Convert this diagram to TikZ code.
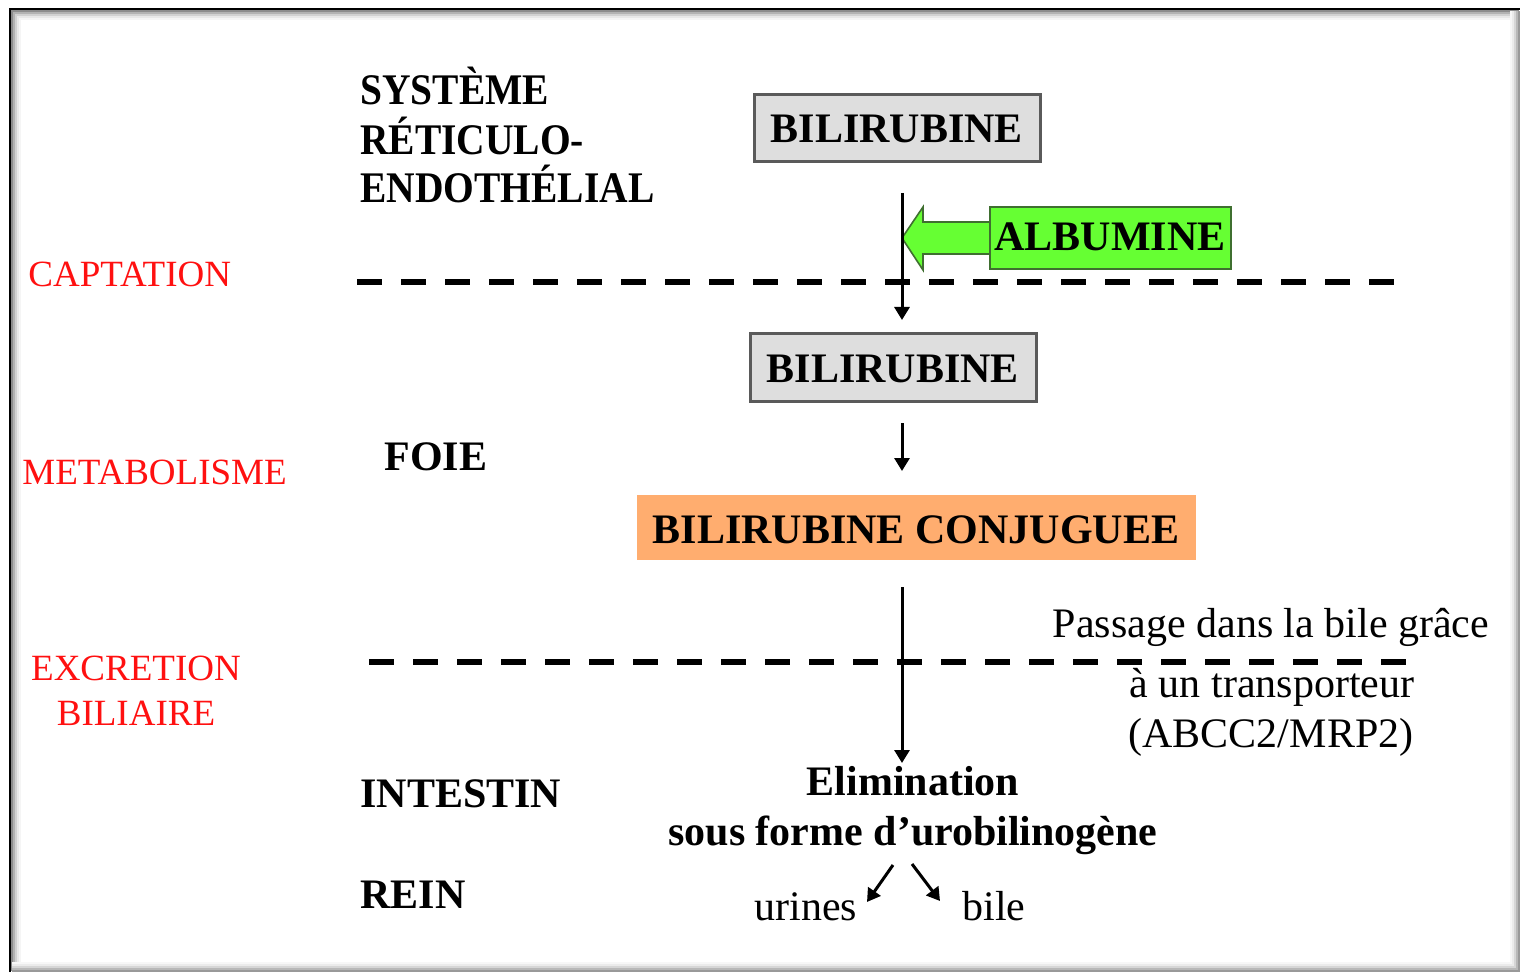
\documentclass[tikz,border=0pt]{standalone}
\usepackage{fontspec}
\setmainfont{Liberation Serif}
\usetikzlibrary{arrows.meta}
\definecolor{boxgray}{HTML}{DEDEDE}
\definecolor{boxedge}{HTML}{5A5A5A}
\definecolor{albgreen}{HTML}{66FF33}
\definecolor{albedge}{HTML}{3F6F30}
\definecolor{conjorange}{HTML}{FFAD6F}
\definecolor{redlab}{HTML}{FF1010}
\tikzset{
  big/.style={font=\fontsize{21}{25}\selectfont\bfseries, inner sep=0pt},
  plain/.style={font=\fontsize{21}{25}\selectfont, inner sep=0pt},
  redtxt/.style={font=\fontsize{18.5}{22}\selectfont, text=redlab, inner sep=0pt},
  graybox/.style={draw=boxedge, line width=1.5pt, fill=boxgray},
  sep/.style={line width=3pt, dash pattern=on 12.5pt off 9.5pt},
  flow/.style={line width=1.5pt, -{Triangle[length=6.5pt,width=7.5pt]}},
}
\begin{document}
\begin{tikzpicture}[x=0.5pt,y=-0.5pt]
\useasboundingbox (0,0) rectangle (1521,973);
\fill[white] (0,0) rectangle (1521,973);
% frame with inner shadow
\foreach \i/\g in {0/60,2/45,4/30,6/18,8/9,10/4}{
  \draw[black!\g, line width=1.2pt] (10+\i,971) -- (10+\i,9+\i) -- (1519,9+\i);
}
\foreach \i/\g in {0/40,2/28,4/16,6/8,8/3}{
  \draw[black!\g, line width=1.2pt] (12,971-\i) -- (1519-\i,971-\i) -- (1519-\i,11);
}
\draw[black, line width=1pt] (10,972) -- (10,9) -- (1520,9);

% left labels
\node[big, anchor=base west] (sre1) at (360,105) {\scalebox{0.94}[1.04]{SYSTÈME}};
\node[big, anchor=base west] (sre2) at (360,155) {\scalebox{0.94}[1.04]{RÉTICULO-}};
\node[big, anchor=base west] (sre3) at (360,203) {\scalebox{0.94}[1.04]{ENDOTHÉLIAL}};
\node[redtxt, anchor=base west] (capt) at (28,287) {CAPTATION};
\node[big, anchor=base west] (foie) at (384,470) {FOIE};
\node[redtxt, anchor=base west] (meta) at (22,484) {METABOLISME};
\node[redtxt, anchor=base] (excr1) at (136,680) {EXCRETION};
\node[redtxt, anchor=base] (excr2) at (136,725) {BILIAIRE};
\node[big, anchor=base west] (intes) at (360,807) {INTESTIN};
\node[big, anchor=base west] (rein) at (360,908) {REIN};

% separators
\coordinate (s1a) at (357,282); \coordinate (s1b) at (1404,282);
\coordinate (s2a) at (369,662); \coordinate (s2b) at (1416,662);
\draw[sep] (s1a) -- (s1b);
\draw[sep] (s2a) -- (s2b);

% boxes
\draw[graybox] (754,95) rectangle (1040,162);
\node[big, anchor=base] (bil1) at (897,143) {BILIRUBINE};
\draw[graybox] (750,334) rectangle (1036,401);
\node[big, anchor=base] (bil2) at (893,382) {BILIRUBINE};
\fill[conjorange] (637,495) rectangle (1196,560);
\node[big, anchor=base] (conj) at (916,543) {BILIRUBINE CONJUGUEE};

% green block arrow
\draw[albedge, line width=0.8pt, fill=albgreen]
  (995,222) -- (923,222) -- (923,207) -- (902,238) -- (923,270) -- (923,254) -- (995,254);
\draw[albedge, line width=1.2pt, fill=albgreen] (990,207) rectangle (1231,269);
\node[big, anchor=base] (alb) at (1110,251) {ALBUMINE};

% vertical flow arrows
\coordinate (a1s) at (902,193); \coordinate (a1e) at (902,320);
\coordinate (a2s) at (902,423); \coordinate (a2e) at (902,471);
\coordinate (a3s) at (902,587); \coordinate (a3e) at (902,763);
\draw[flow] (a1s) -- (a1e);
\draw[flow] (a2s) -- (a2e);
\draw[flow] (a3s) -- (a3e);

% right text
\node[plain, anchor=base] (pass1) at (1271,637) {Passage dans la bile grâce};
\node[plain, anchor=base] (pass2) at (1272,697) {à un transporteur};
\node[plain, anchor=base] (pass3) at (1271,747) {(ABCC2/MRP2)};

% elimination
\node[big, anchor=base] (elim1) at (913,795) {Elimination};
\node[big, anchor=base] (elim2) at (913,845) {sous forme d’urobilinogène};
\node[plain, anchor=base] (urin) at (806,920) {urines};
\node[plain, anchor=base] (bile) at (994,920) {bile};
\coordinate (b1s) at (893,865); \coordinate (b1e) at (867,902);
\coordinate (b2s) at (912,864); \coordinate (b2e) at (940,901);
\draw[flow] (b1s) -- (b1e);
\draw[flow] (b2s) -- (b2e);
\end{tikzpicture}
\end{document}
